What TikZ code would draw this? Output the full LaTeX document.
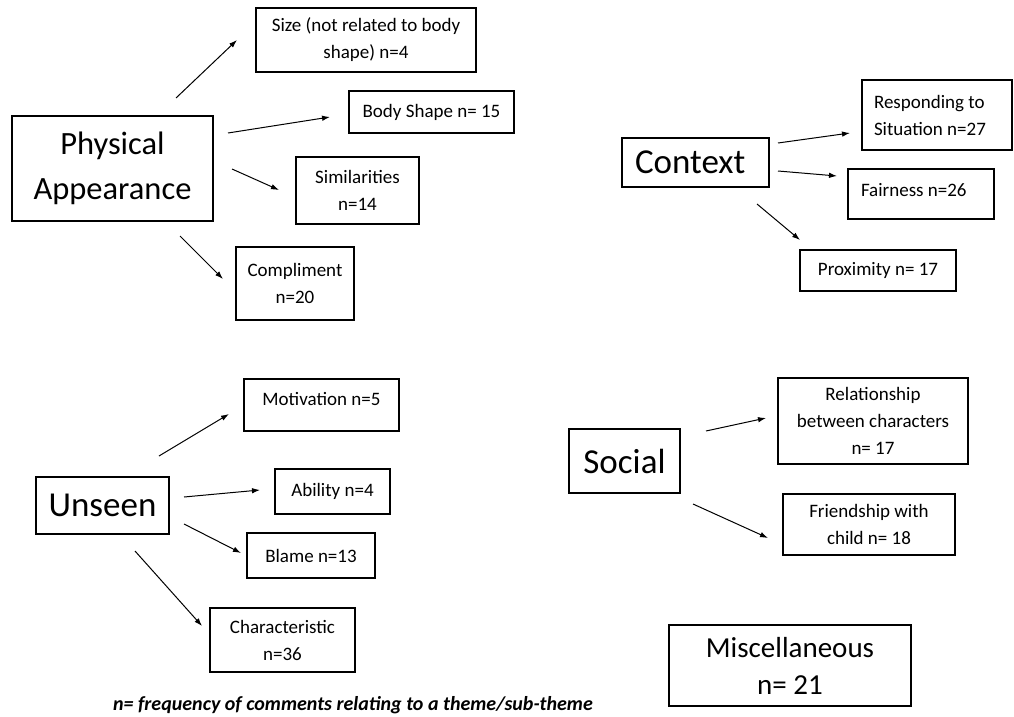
\documentclass[tikz,border=0pt]{standalone}
\usepackage{fontspec}
\setmainfont{Carlito}
\usetikzlibrary{arrows.meta}
\tikzset{
  box/.style={draw, line width=1.6pt, align=center, inner sep=4pt},
  smalltext/.style={font=\fontsize{19}{27}\selectfont},
  bigtext/.style={font=\fontsize{32.5}{45}\selectfont},
  hugetext/.style={font=\fontsize{35}{45}\selectfont},
  arr/.style={-{Latex[length=8pt,width=5.5pt]}, line width=1pt},
}
\begin{document}
\begin{tikzpicture}[x=1pt,y=-1pt]
\fill[white] (0,0) rectangle (1014,717);
\useasboundingbox (0,0) rectangle (1014,717);

% Physical Appearance group
\node[box,bigtext,minimum width=201pt,minimum height=105pt] (phys) at (112.5,168.5) {Physical\\Appearance};
\node[box,smalltext,minimum width=220pt,minimum height=64pt] (size) at (366,40) {Size (not related to body\\shape) n=4};
\node[box,smalltext,minimum width=165pt,minimum height=42pt] (body) at (431.5,112) {Body Shape n= 15};
\node[box,smalltext,minimum width=123pt,minimum height=67pt] (sim) at (357.5,190.5) {Similarities\\n=14};
\node[box,smalltext,minimum width=118pt,minimum height=73pt] (comp) at (295,283.5) {Compliment\\n=20};

% Context group
\node[box,hugetext,align=flush left,text width=121pt,minimum width=147pt,minimum height=49pt] (ctx) at (695.5,162.5) {Context};
\node[box,smalltext,align=flush left,text width=126pt,minimum width=150pt,minimum height=70pt] (resp) at (937,115) {Responding to\\Situation n=27};
\node[box,smalltext,align=flush left,text width=120pt,minimum width=146pt,minimum height=50pt,text depth=8pt] (fair) at (921,194) {Fairness n=26};
\node[box,smalltext,minimum width=156pt,minimum height=41pt] (prox) at (878,270.5) {Proximity n= 17};

% Unseen group
\node[box,hugetext,minimum width=133pt,minimum height=57pt] (uns) at (102.5,505.5) {Unseen};
\node[box,smalltext,minimum width=155pt,minimum height=52pt,text depth=12pt] (mot) at (321.5,405) {Motivation n=5};
\node[box,smalltext,minimum width=115pt,minimum height=45pt] (abil) at (332.5,491.5) {Ability n=4};
\node[box,smalltext,minimum width=128pt,minimum height=45pt] (blame) at (311,555.5) {Blame n=13};
\node[box,smalltext,minimum width=145pt,minimum height=64pt] (char) at (282.5,640) {Characteristic\\n=36};

% Social group
\node[box,hugetext,minimum width=111pt,minimum height=64pt] (soc) at (624.5,461) {Social};
\node[box,smalltext,minimum width=190pt,minimum height=86pt] (rel) at (873,421) {Relationship\\between characters\\n= 17};
\node[box,smalltext,minimum width=172pt,minimum height=61pt] (fri) at (869,524.5) {Friendship with\\child n= 18};

% Miscellaneous
\node[box,font=\fontsize{29}{37}\selectfont,minimum width=242pt,minimum height=81pt] (misc) at (790,665.5) {Miscellaneous\\n= 21};

% caption
\node[font=\fontsize{20}{22}\selectfont\bfseries\itshape] (cap) at (353,705) {n= frequency of comments relating to a theme/sub-theme};

% arrow end points
\coordinate (a1s) at (176,98);  \coordinate (a1e) at (237,40);
\coordinate (a2s) at (228,133); \coordinate (a2e) at (330,117);
\coordinate (a3s) at (232,169); \coordinate (a3e) at (279,190);
\coordinate (a4s) at (180,236); \coordinate (a4e) at (223,279);
\coordinate (b1s) at (778,143); \coordinate (b1e) at (850,133);
\coordinate (b2s) at (778,171); \coordinate (b2e) at (837,176);
\coordinate (b3s) at (757,204); \coordinate (b3e) at (800,240);
\coordinate (c1s) at (159,456); \coordinate (c1e) at (229,414);
\coordinate (c2s) at (184,497); \coordinate (c2e) at (260,490);
\coordinate (c3s) at (184,524); \coordinate (c3e) at (241,553);
\coordinate (c4s) at (135,551); \coordinate (c4e) at (202,626);
\coordinate (d1s) at (706,431); \coordinate (d1e) at (766,418);
\coordinate (d2s) at (693,504); \coordinate (d2e) at (768,538);

\foreach \s/\e in {a1s/a1e,a2s/a2e,a3s/a3e,a4s/a4e,b1s/b1e,b2s/b2e,b3s/b3e,c1s/c1e,c2s/c2e,c3s/c3e,c4s/c4e,d1s/d1e,d2s/d2e}
  \draw[arr] (\s) -- (\e);
\end{tikzpicture}
\end{document}
